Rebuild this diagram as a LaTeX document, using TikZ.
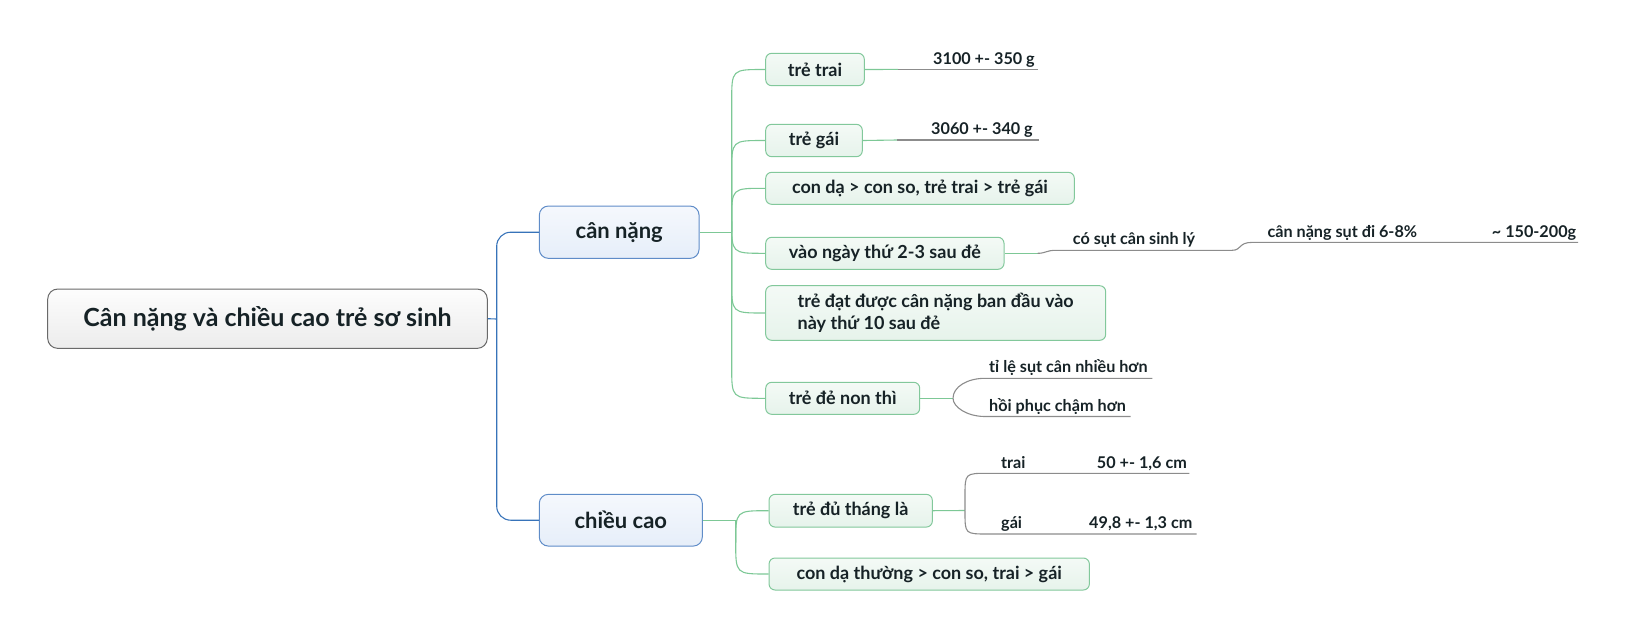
\documentclass[tikz,border=0pt]{standalone}
\usepackage{fontspec}
\setmainfont{Lato}
\usetikzlibrary{calc}
\definecolor{txt}{RGB}{22,34,38}
\definecolor{bluel}{RGB}{55,115,185}
\definecolor{blueborder}{RGB}{95,140,200}
\definecolor{bluetop}{RGB}{245,248,253}
\definecolor{bluebot}{RGB}{230,238,249}
\definecolor{greenl}{RGB}{125,200,150}
\definecolor{greenborder}{RGB}{130,200,155}
\definecolor{greentop}{RGB}{244,250,246}
\definecolor{greenbot}{RGB}{230,243,235}
\definecolor{rootborder}{RGB}{105,105,105}
\definecolor{roottop}{RGB}{253,253,253}
\definecolor{rootbot}{RGB}{236,236,236}
\definecolor{grayl}{RGB}{140,140,140}
\newcommand\brto[4]{\draw[#1] (#2) -- ($(#2|-#3.west)+(0,#4)$) .. controls (#2|-#3.west) .. ($(#2|-#3.west)+(32,0)$) -- (#3.west);}
\begin{document}
\begin{tikzpicture}[x=1pt,y=-1pt,
  rootbox/.style={draw=rootborder, line width=1pt, rounded corners=10pt, top color=roottop, bottom color=rootbot, inner sep=0pt, text=txt, font=\bfseries\fontsize{25}{30}\selectfont},
  mainbox/.style={draw=blueborder, line width=1pt, rounded corners=9pt, top color=bluetop, bottom color=bluebot, inner sep=0pt, text=txt, font=\bfseries\fontsize{22}{26}\selectfont},
  subbox/.style={draw=greenborder, line width=1pt, rounded corners=6pt, top color=greentop, bottom color=greenbot, inner sep=0pt, text=txt, font=\bfseries\fontsize{18}{22}\selectfont},
  leaf/.style={anchor=base west, inner sep=0pt, text=txt, font=\bfseries\fontsize{16.2}{19}\selectfont},
  blueline/.style={draw=bluel, line width=1.1pt},
  greenline/.style={draw=greenl, line width=1.1pt},
  grayline/.style={draw=grayl, line width=1.1pt}]
\useasboundingbox (0,0) rectangle (1625,638);
% boxes
\node[rootbox, minimum width=439.6pt, minimum height=59.3pt] (root) at (267.5,318.7) {Cân nặng và chiều cao trẻ sơ sinh};
\node[mainbox, minimum width=159.7pt, minimum height=52.3pt] (cannang) at (619.2,232.2) {cân nặng};
\node[mainbox, minimum width=163pt, minimum height=51.7pt] (chieucao) at (620.8,520.2) {chiều cao};
\node[subbox, minimum width=98.6pt, minimum height=32.4pt] (tretrai) at (815,69.5) {trẻ trai};
\node[subbox, minimum width=96.6pt, minimum height=32.4pt] (tregai) at (814,140.5) {trẻ gái};
\node[subbox, minimum width=308.6pt, minimum height=32pt] (conda) at (920,188.3) {con dạ > con so, trẻ trai > trẻ gái};
\node[subbox, minimum width=238.3pt, minimum height=32pt] (vaongay) at (884.85,253.3) {vào ngày thứ 2-3 sau đẻ};
\node[subbox, minimum width=340pt, minimum height=54.6pt, align=left] (tredat) at (935.7,313) {trẻ đạt được cân nặng ban đầu vào\\này thứ 10 sau đẻ};
\node[subbox, minimum width=154pt, minimum height=32pt] (trenon) at (842.7,398.3) {trẻ đẻ non thì};
\node[subbox, minimum width=163.3pt, minimum height=32.7pt] (tredu) at (850.7,510.7) {trẻ đủ tháng là};
\node[subbox, minimum width=320.3pt, minimum height=32pt] (condathuong) at (929.2,574) {con dạ thường > con so, trai > gái};
% leaves
\node[leaf] (l3100) at (933,64) {3100 +- 350 g};
\node[leaf] (l3060) at (931,134) {3060 +- 340 g};
\node[leaf] (cosut) at (1072.7,244.3) {có sụt cân sinh lý};
\node[leaf] (sutdi) at (1267.3,237.2) {cân nặng sụt đi 6-8\%};
\node[leaf] (l150) at (1491.7,237.2) {\textasciitilde{} 150-200g};
\node[leaf] (tile) at (989,372.3) {tỉ lệ sụt cân nhiều hơn};
\node[leaf] (hoiphuc) at (989,411.2) {hồi phục chậm hơn};
\node[leaf] (trai) at (1001,468) {trai};
\node[leaf] (l50) at (1096.7,468) {50 +- 1,6 cm};
\node[leaf] (gai) at (1001,528.5) {gái};
\node[leaf] (l498) at (1089,528.5) {49,8 +- 1,3 cm};
% junctions
\coordinate (J0) at (496.7,319);
\coordinate (J1) at (731.7,232.2);
\coordinate (J2) at (735.7,520.2);
% root connectors
\draw[blueline] (root.east) -- (J0);
\draw[blueline, rounded corners=14pt] (J0) |- (cannang.west);
\draw[blueline, rounded corners=14pt] (J0) |- (chieucao.west);
% cân nặng children
\draw[greenline] (cannang.east) -- (J1);
\brto{greenline}{J1}{tretrai}{32}
\brto{greenline}{J1}{tregai}{32}
\brto{greenline}{J1}{conda}{32}
\brto{greenline}{J1}{vaongay}{-32}
\brto{greenline}{J1}{tredat}{-32}
\brto{greenline}{J1}{trenon}{-32}
% chiều cao children
\draw[greenline] (chieucao.east) -- (J2);
\brto{greenline}{J2}{tredu}{32}
\brto{greenline}{J2}{condathuong}{-32}
% leaf connectors
\coordinate (a1) at (898,69.4);
\coordinate (a2) at (1038,69.4);
\draw[greenline] (tretrai.east) -- (a1);
\draw[grayline] (a1) -- (a2);
\coordinate (b1) at (897,140);
\coordinate (b2) at (1039,140);
\draw[greenline] (tregai.east) -- (b1);
\draw[grayline] (b1) -- (b2);
\coordinate (c1) at (1037.7,253.3);
\coordinate (c2) at (1232,250.3);
\coordinate (c3) at (1578,242.4);
\draw[greenline] (vaongay.east) -- (c1);
\draw[grayline] (c1) .. controls (1046,253.3) and (1046,250.3) .. (1056,250.3) -- (c2) .. controls (1242,250.3) and (1238,242.4) .. (1252,242.4) -- (c3);
\coordinate (d1) at (953,398.3);
\coordinate (d2) at (1152.3,378.3);
\coordinate (d3) at (1130.7,416.5);
\draw[greenline] (trenon.east) -- (d1);
\draw[grayline] (d1) .. controls (953,387) and (967,378.3) .. (985,378.3) -- (d2);
\draw[grayline] (d1) .. controls (953,407) and (967,416.5) .. (985,416.5) -- (d3);
\coordinate (e1) at (965,510.5);
\coordinate (e2) at (1189.3,473.3);
\coordinate (e3) at (1196.7,534);
\draw[greenline] (tredu.east) -- (e1);
\draw[grayline] (e1) -- (965,496) .. controls (965,473.3) .. (988,473.3) -- (e2);
\draw[grayline] (e1) -- (965,512) .. controls (965,534) .. (988,534) -- (e3);
\end{tikzpicture}
\end{document}
